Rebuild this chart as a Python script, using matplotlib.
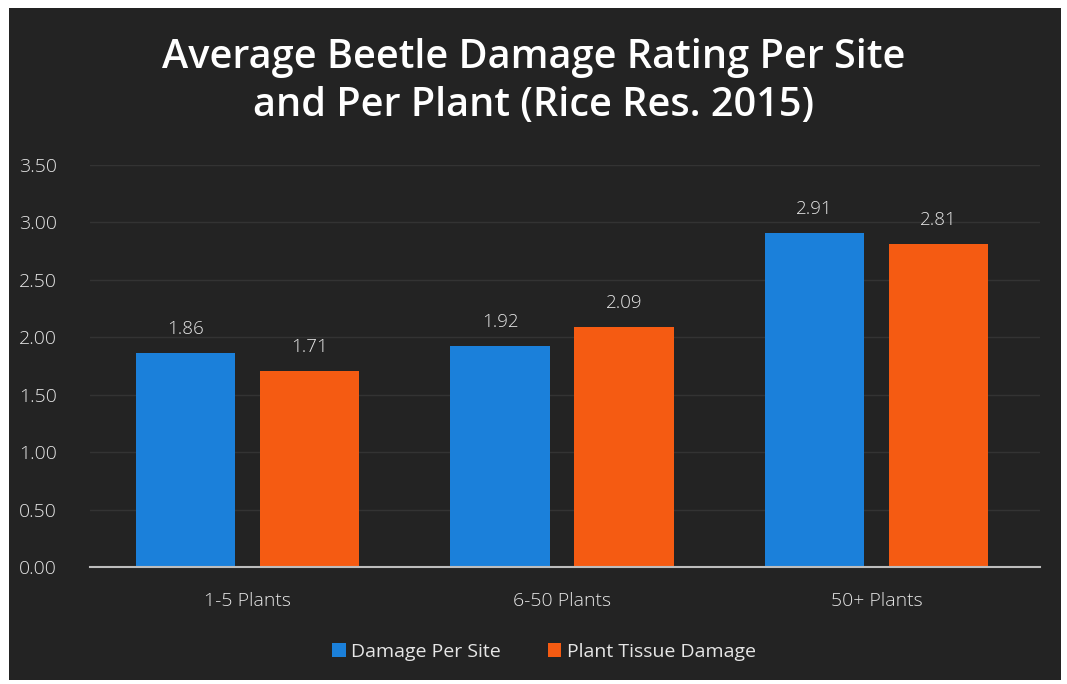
import matplotlib.pyplot as plt
import matplotlib.patches as mpatches
import numpy as np

# ===== Data =====
categories = ["1-5 Plants", "6-50 Plants", "50+ Plants"]
damage_per_site = [1.86, 1.92, 2.91]
tissue_damage = [1.71, 2.09, 2.81]
series_names = ["Damage Per Site", "Plant Tissue Damage"]

BLUE = "#1b80da"
ORANGE = "#f55b12"
BG = "#232323"
TXT = "#e6e6e6"

plt.rcParams["font.family"] = ["Open Sans", "DejaVu Sans"]

fig = plt.figure(figsize=(10.67, 6.84), dpi=100, facecolor="white")
# dark slide panel (behind everything)
panel = mpatches.Rectangle((0.008, 0.006), 0.986, 0.982, transform=fig.transFigure,
                           facecolor=BG, edgecolor="none", zorder=-10)
fig.add_artist(panel)

ax = fig.add_axes([0.0844, 0.171, 0.8906, 0.588])
ax.set_facecolor("none")

x = np.arange(len(categories))
w = 0.315
off = 0.197
b1 = ax.bar(x - off, damage_per_site, w, color=BLUE, label=series_names[0], zorder=3)
b2 = ax.bar(x + off, tissue_damage, w, color=ORANGE, label=series_names[1], zorder=3)

for bars, vals in [(b1, damage_per_site), (b2, tissue_damage)]:
    for r, v in zip(bars, vals):
        ax.text(r.get_x() + r.get_width() / 2, v + 0.13, f"{v:.2f}", ha="center", va="bottom",
                color=TXT, fontsize=13.5, fontweight="light")

ax.set_xlim(-0.5, 2.52)
ax.set_ylim(0, 3.5)
ax.set_yticks(np.arange(0, 3.51, 0.5))
ax.set_yticklabels([f"{t:.2f}" for t in np.arange(0, 3.51, 0.5)], fontweight="light")
ax.set_xticks(x)
ax.set_xticklabels(categories, fontweight="light")
ax.tick_params(axis="both", length=0, colors=TXT, labelsize=14)
ax.tick_params(axis="y", pad=24)
ax.tick_params(axis="x", pad=18)
ax.grid(axis="y", color="#333333", linewidth=1, zorder=0)
for s in ["top", "right", "left"]:
    ax.spines[s].set_visible(False)
ax.spines["bottom"].set_color("#bdbdbd")
ax.spines["bottom"].set_linewidth(1.5)
ax.spines["bottom"].set_zorder(4)

fig.text(0.5, 0.915, "Average Beetle Damage Rating Per Site", ha="center", va="center",
         color="white", fontsize=28.5, fontweight="semibold")
fig.text(0.5, 0.845, "and Per Plant (Rice Res. 2015)", ha="center", va="center",
         color="white", fontsize=28.5, fontweight="semibold")

leg = fig.legend(loc="center", bbox_to_anchor=(0.51, 0.047), ncol=2, frameon=False,
                 fontsize=14, handlelength=0.7, handleheight=0.7, handletextpad=0.3,
                 columnspacing=2.4)
for t in leg.get_texts():
    t.set_color(TXT)

fig.savefig("out.png", dpi=100, facecolor="white")
